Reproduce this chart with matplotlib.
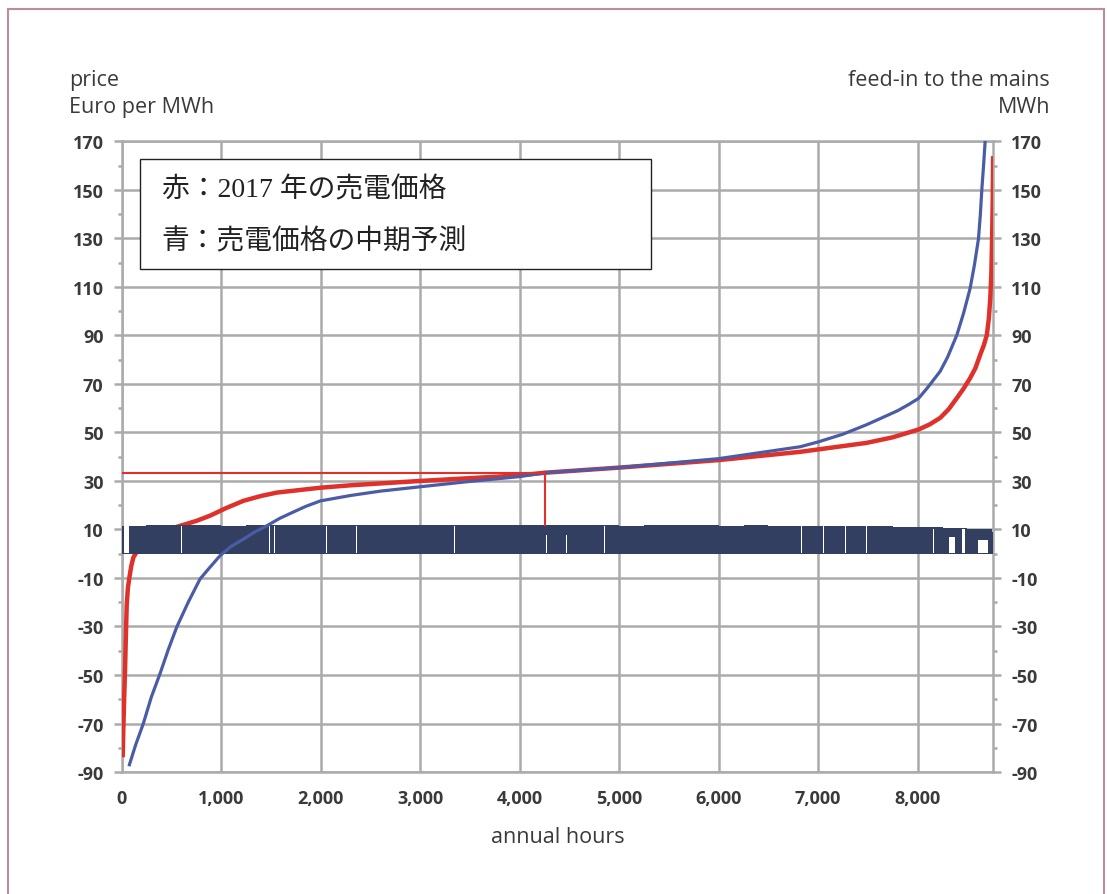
import numpy as np
import matplotlib.pyplot as plt
from matplotlib.patches import Rectangle
from matplotlib.ticker import MultipleLocator, FuncFormatter

plt.rcParams['font.family'] = 'Open Sans'
plt.rcParams['axes.unicode_minus'] = False

# price duration curve 2017 (red)
hours_red = [12, 18, 26, 35, 44, 52, 64, 79, 98, 119, 200, 350, 588, 750, 890, 1050, 1224, 1400,
             1560, 1995, 2296, 3000, 4000, 4256, 5000, 6000, 6819, 7000, 7487, 7750, 8008,
             8120, 8226, 8310, 8394, 8460, 8527, 8580, 8628, 8665, 8695, 8715, 8729, 8740,
             8748, 8754, 8758]
price_red = [-83, -72, -60, -48, -33, -21, -14, -9.7, -5, -1.5, 4, 8.5, 11.5, 13.5, 15.7, 18.8,
             21.8, 23.8, 25.2, 27.2, 28.2, 30, 32.3, 33.4, 35.5, 38.6, 42, 43, 45.7, 48, 51.2,
             53.3, 56, 59.5, 64.2, 68, 72.4, 76.5, 82, 86, 90.2, 97, 105, 115,
             130, 145, 163]

# mid-term forecast (blue)
hours_blue = [79, 140, 219, 300, 387, 470, 555, 670, 789, 890, 990, 1100, 1224, 1340, 1459,
              1590, 1727, 1850, 2000, 2300, 2600, 3000, 3500, 4000, 4256, 5000, 6000, 6819,
              7000, 7250, 7487, 7650, 7800, 7900, 8008, 8100, 8226, 8300, 8394, 8460, 8527,
              8570, 8611, 8630, 8645, 8662, 8678]
price_blue = [-87, -79, -70, -59, -49.4, -39.5, -30.2, -20, -10.4, -5.5, -0.8, 3, 6, 9, 11.5,
              14.6, 17.2, 19.5, 21.8, 24.0, 25.8, 27.6, 29.8, 31.8, 33.4, 35.5, 39.2, 44.1,
              46.1, 49.3, 53.2, 56.2, 59, 61.3, 64, 68.5, 75.2, 81, 90.2, 99, 109.4,
              119, 129.9, 140, 150.4, 160, 170]

# feed-in to the mains (dark band), coarse top profile every 250 h
feed_hours = list(range(0, 8760, 250))
feed_top = [11.6, 11.9, 11.7, 11.8, 11.6, 11.9, 11.7, 11.8, 11.7, 11.9, 11.8, 11.7,
            11.9, 11.7, 11.8, 11.7, 11.9, 11.7, 11.8, 11.7, 11.6, 11.8, 11.7, 11.7,
            11.6, 11.7, 11.5, 11.6, 11.5, 11.5, 11.3, 11.1, 10.9, 10.6, 10.2, 9.0]
# white gaps in the feed-in band: start hour, end hour, gap height
gap_start = [22, 600, 1485, 1535, 1580, 1970, 2058, 2360, 2645, 2745, 3340, 4270, 4344, 4470,
             4850, 5800, 6000, 6300, 6830, 7050, 7270, 7480, 7560, 8155, 8310, 8450, 8610]
gap_end = [75, 608, 1491, 1541, 1586, 1976, 2064, 2366, 2651, 2751, 3346, 4276, 4350, 4476,
           4856, 5806, 6006, 6306, 6836, 7056, 7276, 7486, 7566, 8165, 8380, 8480, 8710]
gap_top = [11, 11, 11, 11, 11, 11, 11, 11, 11, 11, 11, 7.5, 7.5, 7.5,
           11, 11, 11, 11, 11, 11, 11, 11, 11, 10, 6.7, 10, 5.5]

# reference price marker
mark_hour = 4256
mark_price = 33.4

grey = '#ababab'
txt = '#3a3a3a'

fig = plt.figure(figsize=(11.07, 8.95), dpi=100)
ax = fig.add_axes([0.1098, 0.1363, 0.7875, 0.7046])

ax.plot(hours_red, price_red, color='#e0302a', lw=3.2, zorder=3)

fh = feed_hours + [8760]
ft = feed_top + [feed_top[-1]]
ax.fill_between(fh, -0.3, ft, step='post', color='#333f60', lw=0, zorder=4)
gs = np.array(gap_start)
ge = np.array(gap_end)
ax.bar(gs, gap_top, width=ge - gs, bottom=0.3, align='edge', color='white', lw=0, zorder=4.5)

ax.plot(hours_blue, price_blue, color='#4a5ca6', lw=2.3, zorder=5)

ax.plot([0, mark_hour, mark_hour], [mark_price, mark_price, 12], color='#e0302a', lw=1.5, zorder=6)

ax.set_xlim(0, 8760)
ax.set_ylim(-90, 170)
ax.set_yticks(np.arange(-90, 171, 20))
ax.yaxis.set_minor_locator(MultipleLocator(10))
ax.set_xticks(np.arange(0, 8001, 1000))
ax.xaxis.set_major_formatter(FuncFormatter(lambda v, p: f'{int(v):,}'))
ax.grid(True, which='major', color=grey, lw=1.8, zorder=0)
ax.set_axisbelow(True)
for s in ax.spines.values():
    s.set_color(grey)
    s.set_linewidth(1.8)

ax.tick_params(axis='y', which='major', length=6, width=1.8, color=grey, pad=7,
               left=True, right=True, labelleft=True, labelright=True,
               labelsize=13, labelcolor=txt)
ax.tick_params(axis='y', which='minor', length=3, width=1.8, color=grey, left=True, right=True)
ax.tick_params(axis='x', which='major', length=0, pad=12, labelsize=13, labelcolor=txt)
for lab in ax.get_xticklabels():
    lab.set_fontweight('bold')
for t in ax.yaxis.get_major_ticks():
    t.label1.set_fontweight('bold')
    t.label2.set_fontweight('bold')

ax.set_xlabel('annual hours', fontsize=15.5, color=txt, labelpad=14)

fig.text(0.0623, 0.9106, 'price', fontsize=15.5, color=txt, va='center')
fig.text(0.0623, 0.8804, 'Euro per MWh', fontsize=15.5, color=txt, va='center')
fig.text(0.9485, 0.9106, 'feed-in to the mains', fontsize=15.5, color=txt, va='center', ha='right')
fig.text(0.9485, 0.8804, 'MWh', fontsize=15.5, color=txt, va='center', ha='right')

# annotation box
ax.add_patch(Rectangle((0.0212, 0.7977), 0.5862, 0.1743, transform=ax.transAxes,
                       facecolor='white', edgecolor='#222222', lw=1.0, zorder=10))
jp = ['Liberation Serif', 'Noto Sans CJK JP']
ax.text(0.046, 0.9245, '赤：2017 年の売電価格', transform=ax.transAxes, fontsize=20,
        family=jp, color='#222222', va='center', zorder=11)
ax.text(0.046, 0.842, '青：売電価格の中期予測', transform=ax.transAxes, fontsize=20,
        family=jp, color='#222222', va='center', zorder=11)

# outer frame
fig.patches.append(Rectangle((8 / 1107, -0.01), 1096 / 1107, 1 - 10 / 895 + 0.01,
                             transform=fig.transFigure, fill=False, edgecolor='#c08aa2',
                             lw=1.5))

fig.savefig('out.png', dpi=100)
